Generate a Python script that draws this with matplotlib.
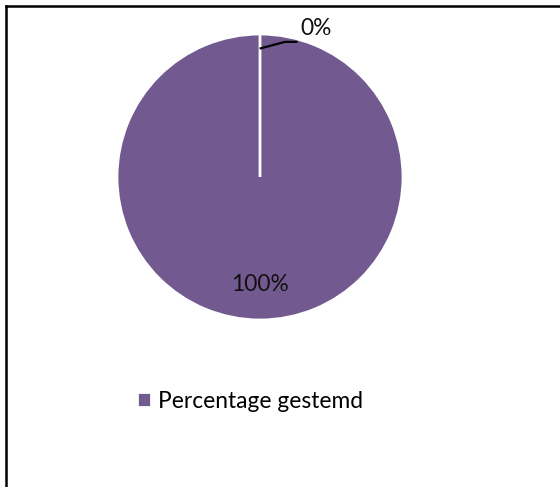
"""
Pie chart: Percentage gestemd (100% vs 0%).
"""

import matplotlib.pyplot as plt
from matplotlib.lines import Line2D
import numpy as np

plt.rcParams['font.family'] = ['Lato', 'DejaVu Sans']

# Data
labels = ["Percentage gestemd", ""]
values = [100, 0]
colors = ["#72598f", "#72598f"]

W, H, DPI = 560, 487, 100
fig = plt.figure(figsize=(W / DPI, H / DPI), dpi=DPI)

# Pie axes: center (260, 177) px, radius 143 px
cx, cy, r = 260, 177, 143
ax = fig.add_axes([(cx - r) / W, (H - cy - r) / H, 2 * r / W, 2 * r / H])

total = sum(values)


def fmt(p):
    return f"{p:.0f}%" if p > 0.5 else ""


wedges, texts, autotexts = ax.pie(
    values, colors=colors, startangle=90, counterclock=False,
    autopct=fmt, pctdistance=0.75,
    wedgeprops=dict(edgecolor="white", linewidth=2),
    textprops=dict(fontsize=16.4, color="#111111"),
    shadow=dict(ox=2, oy=-3, facecolor="#c8c8c8", edgecolor="none"),
)
ax.set_xlim(-1, 1)
ax.set_ylim(-1, 1)
ax.set_aspect("equal")

# label for the zero slice with a leader line
for w, v in zip(wedges, values):
    if v == 0:
        ang = np.deg2rad((w.theta1 + w.theta2) / 2)
        x0, y0 = 0.9 * np.cos(ang) + 0.005, 0.9 * np.sin(ang)
        ax.plot([x0, x0 + 0.17, x0 + 0.25], [y0, y0 + 0.045, y0 + 0.045],
                color="black", lw=1.6, clip_on=False)
        ax.text(x0 + 0.39, y0 + 0.14, f"{v / total * 100:.0f}%",
                ha="center", va="center", fontsize=16.4, color="#111111")

# legend (first series only)
fig.legend([wedges[0]], [labels[0]], loc="center left",
           bbox_to_anchor=(137 / W, 1 - 401 / H), frameon=False,
           fontsize=16.4, handlelength=0.62, handleheight=0.62,
           handletextpad=0.3, borderpad=0, borderaxespad=0)

# chart border (top and left visible)
fig.add_artist(Line2D([6 / W, 1], [1 - 6 / H, 1 - 6 / H], color="black", lw=1.8))
fig.add_artist(Line2D([6 / W, 6 / W], [0, 1 - 6 / H], color="black", lw=1.8))

fig.savefig("out.png", dpi=DPI)
